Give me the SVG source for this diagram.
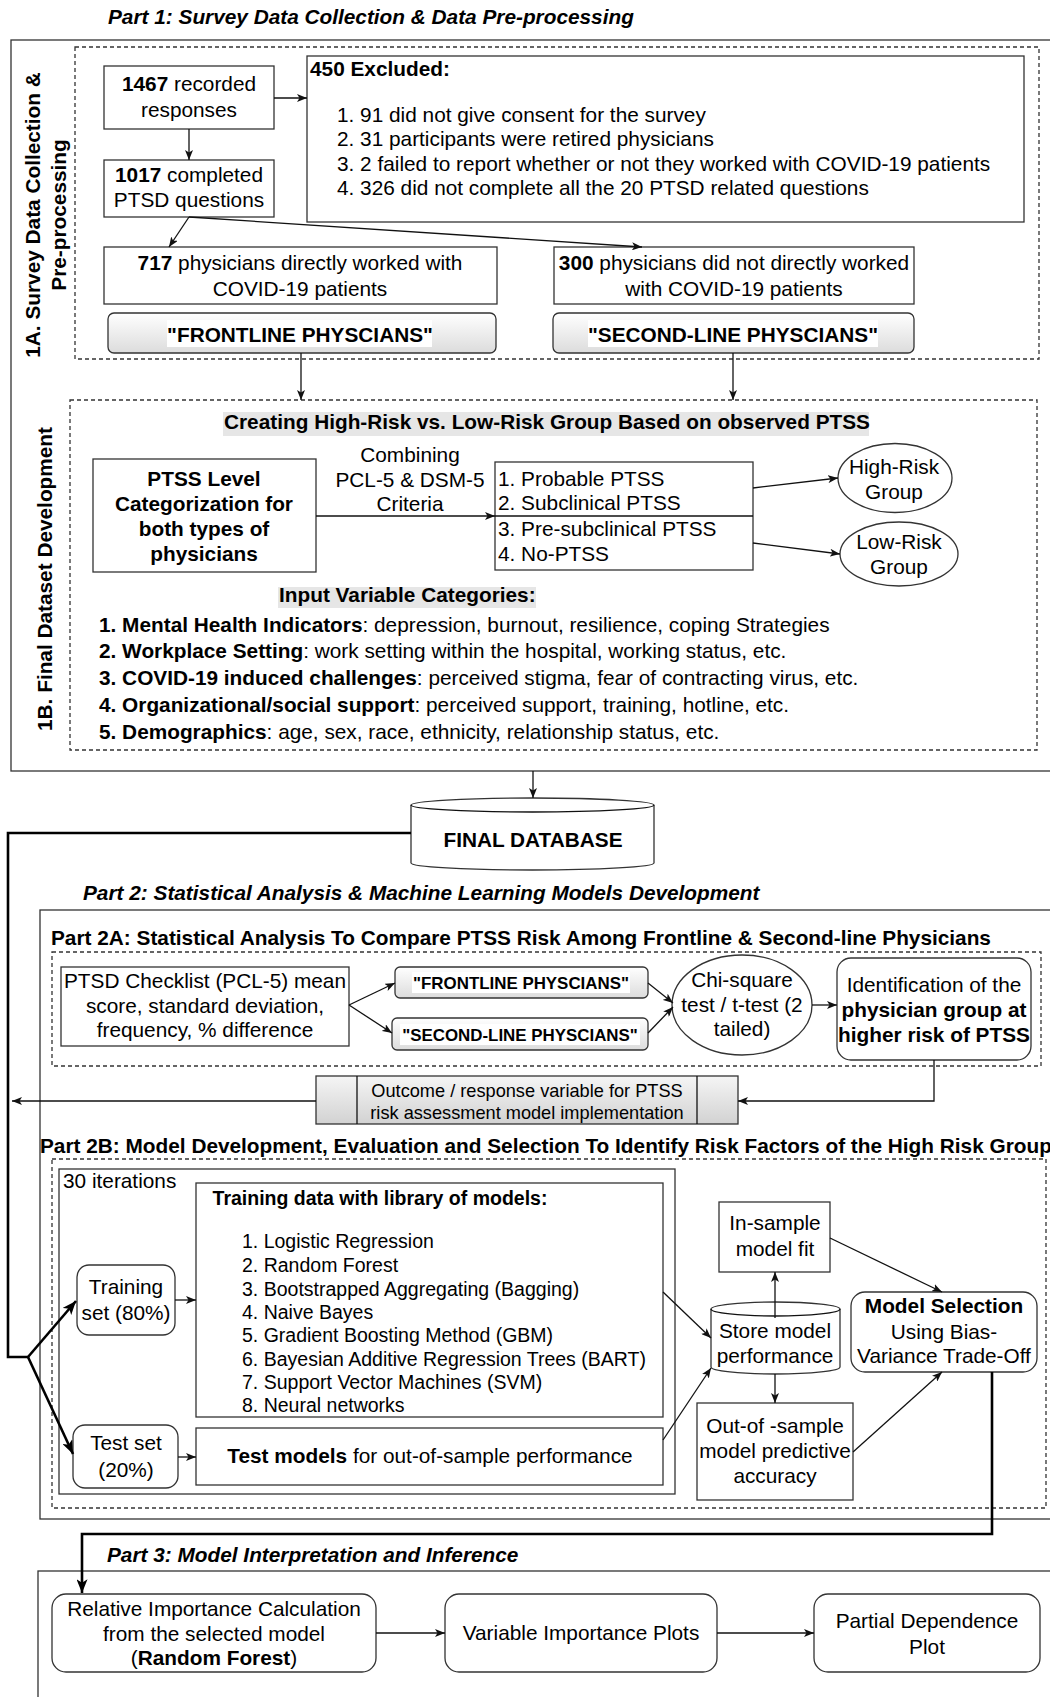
<svg xmlns="http://www.w3.org/2000/svg" width="1050" height="1697" viewBox="0 0 1050 1697">
<defs>
<style>
text{font-family:"Liberation Sans",Arial,sans-serif;font-size:20.8px;fill:#000}
.c{text-anchor:middle}
.b{font-weight:bold}
.bi{font-weight:bold;font-style:italic}
.box{fill:#fff;stroke:#333;stroke-width:1.3}
.frame{fill:none;stroke:#333;stroke-width:1.3}
.dash{fill:none;stroke:#333;stroke-width:1.3;stroke-dasharray:4 3}
.btn{fill:url(#g1);stroke:#333;stroke-width:1.3}
.proc{fill:url(#g2);stroke:#333;stroke-width:1.3}
.ln{fill:none;stroke:#111;stroke-width:1.3;marker-end:url(#a)}
.pl{fill:none;stroke:#111;stroke-width:1.3}
.th{fill:none;stroke:#000;stroke-width:2.6;marker-end:url(#A)}
.thp{fill:none;stroke:#000;stroke-width:2.6}
.hl{fill:#e6e6e6}
.wb{fill:#fff}
.s17{font-size:16.9px}
.s18{font-size:18.2px}
.s19{font-size:19.5px}
</style>
<linearGradient id="g1" x1="0" y1="0" x2="0" y2="1"><stop offset="0" stop-color="#ffffff"/><stop offset="1" stop-color="#dcdcdc"/></linearGradient>
<linearGradient id="g2" x1="0" y1="0" x2="0" y2="1"><stop offset="0" stop-color="#f5f5f5"/><stop offset="1" stop-color="#d2d2d2"/></linearGradient>
<marker id="a" viewBox="0 0 10 8" refX="10" refY="4" markerWidth="10" markerHeight="8" markerUnits="userSpaceOnUse" orient="auto"><path d="M0,0 L10,4 L0,8 L2.5,4 z" fill="#111"/></marker>
<marker id="A" viewBox="0 0 10 8" refX="10" refY="4" markerWidth="14" markerHeight="11" markerUnits="userSpaceOnUse" orient="auto"><path d="M0,0 L10,4 L0,8 L2.5,4 z" fill="#000"/></marker>
</defs>
<rect width="1050" height="1697" fill="#fff"/>

<!-- Part 1 -->
<g id="part1">
<text class="bi" x="108" y="24">Part 1: Survey Data Collection &amp; Data Pre-processing</text>
<rect class="frame" x="11" y="40" width="1060" height="731"/>
<rect class="dash" x="75" y="47" width="964" height="312"/>
<text class="b c" transform="translate(32,215) rotate(-90)" dominant-baseline="central">1A. Survey Data Collection &amp;</text>
<text class="b c" transform="translate(58,215) rotate(-90)" dominant-baseline="central">Pre-processing</text>
<rect class="dash" x="70" y="400" width="967" height="350"/>
<text class="b c" transform="translate(44,579) rotate(-90)" dominant-baseline="central">1B. Final Dataset Development</text>
</g>

<g id="n1467">
<rect class="box" x="104" y="66" width="170" height="63"/>
<text class="c" x="189" y="91"><tspan class="b">1467</tspan> recorded</text>
<text class="c" x="189" y="117">responses</text>
</g>
<g id="n1017">
<rect class="box" x="104" y="160" width="170" height="57"/>
<text class="c" x="189" y="182"><tspan class="b">1017</tspan> completed</text>
<text class="c" x="189" y="207">PTSD questions</text>
</g>
<g id="n450">
<rect class="box" x="307" y="56" width="717" height="166"/>
<text class="b" x="310" y="76">450 Excluded:</text>
<text x="337" y="122">1. 91 did not give consent for the survey</text>
<text x="337" y="146">2. 31 participants were retired physicians</text>
<text x="337" y="171">3. 2 failed to report whether or not they worked with COVID-19 patients</text>
<text x="337" y="195">4. 326 did not complete all the 20 PTSD related questions</text>
</g>
<g id="n717">
<rect class="box" x="104" y="247" width="393" height="57"/>
<text class="c" x="300" y="270"><tspan class="b">717</tspan> physicians directly worked with</text>
<text class="c" x="300" y="296">COVID-19 patients</text>
</g>
<g id="nFront">
<rect class="btn" x="108" y="313" width="388" height="40" rx="6"/>
<rect class="wb" x="167" y="320" width="265" height="27"/>
<text class="b c" x="300" y="342">"FRONTLINE PHYSCIANS"</text>
</g>
<g id="n300">
<rect class="box" x="554" y="247" width="360" height="57"/>
<text class="c" x="734" y="270"><tspan class="b">300</tspan> physicians did not directly worked</text>
<text class="c" x="734" y="296">with COVID-19 patients</text>
</g>
<g id="nSecond">
<rect class="btn" x="553" y="313" width="361" height="40" rx="6"/>
<rect class="wb" x="588" y="320" width="290" height="27"/>
<text class="b c" x="733" y="342">"SECOND-LINE PHYSCIANS"</text>
</g>

<g id="n1Btitle">
<rect class="hl" x="223" y="412" width="646" height="24"/>
<text class="b" x="224" y="429">Creating High-Risk vs. Low-Risk Group Based on observed PTSS</text>
</g>
<g id="nPTSS">
<rect class="box" x="93" y="459" width="223" height="113"/>
<text class="b c" x="204" y="486">PTSS Level</text>
<text class="b c" x="204" y="511">Categorization for</text>
<text class="b c" x="204" y="536">both types of</text>
<text class="b c" x="204" y="561">physicians</text>
</g>
<g id="nCombining">
<text class="c" x="410" y="462">Combining</text>
<text class="c" x="410" y="487">PCL-5 &amp; DSM-5</text>
<text class="c" x="410" y="511">Criteria</text>
</g>
<g id="nList">
<rect class="box" x="495" y="462" width="258" height="108"/>
<line class="pl" x1="495" y1="516" x2="753" y2="516"/>
<text x="498" y="486">1. Probable PTSS</text>
<text x="498" y="510">2. Subclinical PTSS</text>
<text x="498" y="536">3. Pre-subclinical PTSS</text>
<text x="498" y="561">4. No-PTSS</text>
</g>
<g id="nHigh">
<ellipse class="box" cx="895" cy="478" rx="57" ry="34.5"/>
<text class="c" x="894" y="474">High-Risk</text>
<text class="c" x="894" y="499">Group</text>
</g>
<g id="nLow">
<ellipse class="box" cx="899" cy="554" rx="59" ry="32"/>
<text class="c" x="899" y="549">Low-Risk</text>
<text class="c" x="899" y="574">Group</text>
</g>
<g id="nInputs">
<rect class="hl" x="278" y="587" width="258" height="21"/>
<text class="b" x="279" y="602">Input Variable Categories:</text>
<text x="99" y="632"><tspan class="b">1. Mental Health Indicators</tspan>: depression, burnout, resilience, coping Strategies</text>
<text x="99" y="658"><tspan class="b">2. Workplace Setting</tspan>: work setting within the hospital, working status, etc.</text>
<text x="99" y="685"><tspan class="b">3. COVID-19 induced challenges</tspan>: perceived stigma, fear of contracting virus, etc.</text>
<text x="99" y="712"><tspan class="b">4. Organizational/social support</tspan>: perceived support, training, hotline, etc.</text>
<text x="99" y="739"><tspan class="b">5. Demographics</tspan>: age, sex, race, ethnicity, relationship status, etc.</text>
</g>

<!-- Final database -->
<g id="nFinalDB">
<path class="box" d="M411,805 L411,863 A121.5,7 0 0 0 654,863 L654,805 A121.5,7 0 0 0 411,805 Z"/>
<path class="pl" d="M411,805 A121.5,7 0 0 0 654,805"/>
<text class="b c" x="533" y="847">FINAL DATABASE</text>
</g>

<!-- Part 2 -->
<g id="part2">
<text class="bi" x="83" y="900">Part 2: Statistical Analysis &amp; Machine Learning Models Development</text>
<rect class="frame" x="40" y="910" width="1030" height="609"/>
<text class="b" x="51" y="945">Part 2A: Statistical Analysis To Compare PTSS Risk Among Frontline &amp; Second-line Physicians</text>
<rect class="dash" x="52" y="952" width="989" height="114"/>
<text class="b" x="40" y="1153">Part 2B: Model Development, Evaluation and Selection To Identify Risk Factors of the High Risk Group</text>
<rect class="dash" x="52" y="1159" width="994" height="349"/>
<rect class="frame" x="59" y="1169" width="616" height="325"/>
<text x="63" y="1188">30 iterations</text>
</g>
<g id="nPCL">
<rect class="box" x="61" y="967" width="288" height="79"/>
<text class="c" x="205" y="988">PTSD Checklist (PCL-5) mean</text>
<text class="c" x="205" y="1013">score, standard deviation,</text>
<text class="c" x="205" y="1037">frequency, % difference</text>
</g>
<g id="nFront2">
<rect class="btn" x="395" y="967" width="253" height="31" rx="5"/>
<rect class="wb" x="412" y="972" width="218" height="21"/>
<text class="b c s17" x="521" y="989">"FRONTLINE PHYSCIANS"</text>
</g>
<g id="nSecond2">
<rect class="btn" x="392" y="1018" width="256" height="32" rx="5"/>
<rect class="wb" x="400" y="1024" width="240" height="21"/>
<text class="b c s17" x="520" y="1041">"SECOND-LINE PHYSCIANS"</text>
</g>
<g id="nChi">
<ellipse class="box" cx="742" cy="1005" rx="70" ry="50"/>
<text class="c" x="742" y="987">Chi-square</text>
<text class="c" x="742" y="1012">test / t-test (2</text>
<text class="c" x="742" y="1036">tailed)</text>
</g>
<g id="nIdent">
<rect class="box" x="837" y="958" width="194" height="102" rx="14"/>
<text class="c" x="934" y="992">Identification of the</text>
<text class="b c" x="934" y="1017">physician group at</text>
<text class="b c" x="934" y="1042">higher risk of PTSS</text>
</g>
<g id="nOutcome">
<rect class="proc" x="316" y="1076" width="422" height="48"/>
<line class="pl" x1="357" y1="1076" x2="357" y2="1124"/>
<line class="pl" x1="697" y1="1076" x2="697" y2="1124"/>
<text class="c s18" x="527" y="1097">Outcome / response variable for PTSS</text>
<text class="c s18" x="527" y="1119">risk assessment model implementation</text>
</g>

<g id="nTrainData">
<rect class="box" x="196" y="1183" width="467" height="234"/>
<text class="b c s19" x="380" y="1205">Training data with library of models:</text>
<text class="s19" x="242" y="1248">1. Logistic Regression</text>
<text class="s19" x="242" y="1272">2. Random Forest</text>
<text class="s19" x="242" y="1296">3. Bootstrapped Aggregating (Bagging)</text>
<text class="s19" x="242" y="1319">4. Naive Bayes</text>
<text class="s19" x="242" y="1342">5. Gradient Boosting Method (GBM)</text>
<text class="s19" x="242" y="1366">6. Bayesian Additive Regression Trees (BART)</text>
<text class="s19" x="242" y="1389">7. Support Vector Machines (SVM)</text>
<text class="s19" x="242" y="1412">8. Neural networks</text>
</g>
<g id="nTrainSet">
<rect class="box" x="77" y="1265" width="98" height="70" rx="12"/>
<text class="c" x="126" y="1294">Training</text>
<text class="c" x="126" y="1320">set (80%)</text>
</g>
<g id="nTestSet">
<rect class="box" x="73" y="1425" width="105" height="63" rx="12"/>
<text class="c" x="126" y="1450">Test set</text>
<text class="c" x="126" y="1477">(20%)</text>
</g>
<g id="nTestModels">
<rect class="box" x="196" y="1428" width="467" height="57"/>
<text class="c" x="430" y="1463"><tspan class="b">Test models</tspan> for out-of-sample performance</text>
</g>
<g id="nStore">
<path class="box" d="M711,1309 L711,1367 A64.5,7 0 0 0 840,1367 L840,1309 A64.5,7 0 0 0 711,1309 Z"/>
<path class="pl" d="M711,1309 A64.5,7 0 0 0 840,1309"/>
<text class="c" x="775" y="1338">Store model</text>
<text class="c" x="775" y="1363">performance</text>
</g>
<g id="nInSample">
<rect class="box" x="719" y="1202" width="111" height="70"/>
<text class="c" x="775" y="1230">In-sample</text>
<text class="c" x="775" y="1256">model fit</text>
</g>
<g id="nOutSample">
<rect class="box" x="697" y="1403" width="156" height="97"/>
<text class="c" x="775" y="1433">Out-of -sample</text>
<text class="c" x="775" y="1458">model predictive</text>
<text class="c" x="775" y="1483">accuracy</text>
</g>
<g id="nModelSel">
<rect class="box" x="851" y="1292" width="186" height="80" rx="14"/>
<text class="b c" x="944" y="1313">Model Selection</text>
<text class="c" x="944" y="1339">Using Bias-</text>
<text class="c" x="944" y="1363">Variance Trade-Off</text>
</g>

<!-- Part 3 -->
<g id="part3">
<text class="bi" x="107" y="1562">Part 3: Model Interpretation and Inference</text>
<rect class="frame" x="38" y="1571" width="1030" height="140"/>
</g>
<g id="nRelImp">
<rect class="box" x="52" y="1594" width="324" height="78" rx="14"/>
<text class="c" x="214" y="1616">Relative Importance Calculation</text>
<text class="c" x="214" y="1641">from the selected model</text>
<text class="c" x="214" y="1665">(<tspan class="b">Random Forest</tspan>)</text>
</g>
<g id="nVarImp">
<rect class="box" x="445" y="1594" width="272" height="78" rx="14"/>
<text class="c" x="581" y="1640">Variable Importance Plots</text>
</g>
<g id="nPDP">
<rect class="box" x="814" y="1594" width="226" height="78" rx="14"/>
<text class="c" x="927" y="1628">Partial Dependence</text>
<text class="c" x="927" y="1654">Plot</text>
</g>

<!-- Connectors -->
<g id="connectors">
<line class="ln" x1="274" y1="98" x2="307" y2="98"/>
<line class="ln" x1="189" y1="129" x2="189" y2="160"/>
<line class="ln" x1="189" y1="217" x2="169" y2="247"/>
<line class="ln" x1="189" y1="217" x2="642" y2="247"/>
<line class="ln" x1="301" y1="353" x2="301" y2="400"/>
<line class="ln" x1="733" y1="353" x2="733" y2="400"/>
<line class="ln" x1="316" y1="516" x2="495" y2="516"/>
<line class="ln" x1="753" y1="488" x2="838" y2="478"/>
<line class="ln" x1="753" y1="543" x2="840" y2="554"/>
<line class="ln" x1="533" y1="771" x2="533" y2="798"/>
<path class="thp" d="M411,833 L8,833 L8,1357 L28,1357"/>
<line class="th" x1="28" y1="1357" x2="76" y2="1301"/>
<line class="th" x1="28" y1="1357" x2="73" y2="1454"/>
<line class="ln" x1="349" y1="1005" x2="395" y2="983"/>
<line class="ln" x1="349" y1="1005" x2="392" y2="1033"/>
<line class="ln" x1="648" y1="983" x2="673" y2="1003"/>
<line class="ln" x1="648" y1="1033" x2="673" y2="1007"/>
<line class="ln" x1="812" y1="1005" x2="837" y2="1005"/>
<path class="ln" d="M934,1060 L934,1101 L738,1101"/>
<line class="ln" x1="316" y1="1101" x2="12" y2="1101"/>
<line class="ln" x1="175" y1="1300" x2="196" y2="1300"/>
<line class="ln" x1="178" y1="1457" x2="196" y2="1457"/>
<line class="ln" x1="663" y1="1292" x2="711" y2="1338"/>
<line class="ln" x1="663" y1="1440" x2="711" y2="1368"/>
<line class="ln" x1="775" y1="1318" x2="775" y2="1272"/>
<line class="ln" x1="775" y1="1374" x2="775" y2="1403"/>
<line class="ln" x1="830" y1="1238" x2="942" y2="1292"/>
<line class="ln" x1="853" y1="1452" x2="942" y2="1372"/>
<path class="th" d="M992,1372 L992,1534 L82,1534 L82,1593"/>
<line class="ln" x1="376" y1="1633" x2="445" y2="1633"/>
<line class="ln" x1="717" y1="1633" x2="814" y2="1633"/>
</g>
</svg>
